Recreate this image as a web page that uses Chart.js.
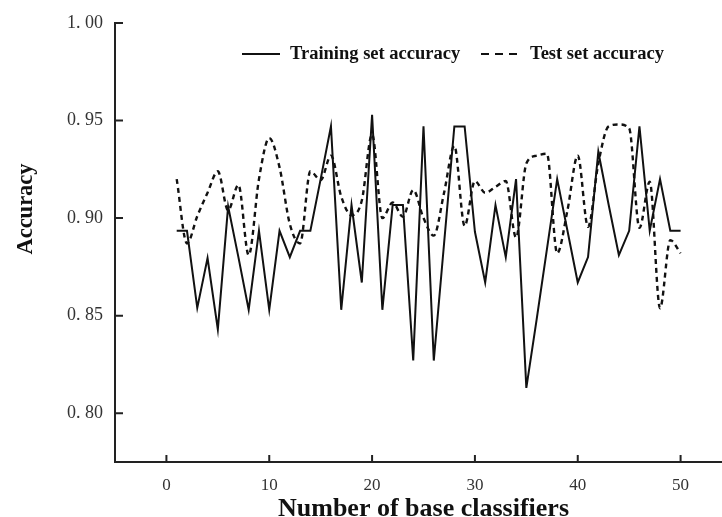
<!DOCTYPE html>
<html>
<head>
<meta charset="utf-8">
<script src="https://cdn.jsdelivr.net/npm/chart.js@4.4.0/dist/chart.umd.min.js"></script>
<style>
  html, body { margin: 0; padding: 0; background: #fff; overflow: hidden; }
  #wrap { width: 740px; height: 517px; }
</style>
</head>
<body>
<div id="wrap"><canvas id="accChart" width="740" height="517"></canvas></div>
<script>
const classifiers = [1, 2, 3, 4, 5, 6, 7, 8, 9, 10, 11, 12, 13, 14, 15, 16, 17, 18, 19, 20,
    21, 22, 23, 24, 25, 26, 27, 28, 29, 30, 31, 32, 33, 34, 35, 36, 37, 38, 39, 40,
    41, 42, 43, 44, 45, 46, 47, 48, 49, 50];

const trainAcc = [0.8935, 0.8935, 0.854, 0.8795, 0.843, 0.906, 0.880, 0.853, 0.8935, 0.853,
    0.8935, 0.880, 0.8935, 0.8935, 0.920, 0.947, 0.853, 0.9067, 0.867, 0.953,
    0.853, 0.9067, 0.9067, 0.827, 0.947, 0.827, 0.887, 0.947, 0.947, 0.893,
    0.867, 0.9067, 0.880, 0.920, 0.813, 0.848, 0.884, 0.920, 0.8935, 0.867,
    0.880, 0.934, 0.907, 0.881, 0.8935, 0.947, 0.8935, 0.920, 0.8935, 0.8935];

const testAcc = [0.920, 0.887, 0.901, 0.913, 0.924, 0.904, 0.917, 0.881, 0.920, 0.941,
    0.926, 0.897, 0.887, 0.924, 0.9195, 0.932, 0.911, 0.9015, 0.909, 0.943,
    0.900, 0.908, 0.9007, 0.9144, 0.900, 0.891, 0.913, 0.937, 0.896, 0.919,
    0.913, 0.916, 0.919, 0.890, 0.928, 0.932, 0.933, 0.882, 0.904, 0.932,
    0.8955, 0.928, 0.947, 0.948, 0.946, 0.895, 0.9186, 0.8538, 0.8887, 0.882];

const xTicks = [0, 10, 20, 30, 40, 50];
const yTicks = [0.80, 0.85, 0.90, 0.95, 1.00];
const yTitle = 'Accuracy';

const serif = "'Liberation Serif', 'DejaVu Serif', serif";

// tick marks point into the plot, so draw them by hand
const inwardTicks = {
    id: 'inwardTicks',
    afterDraw(chart) {
        const ctx = chart.ctx;
        const xs = chart.scales.x;
        const ys = chart.scales.y;
        ctx.save();
        ctx.strokeStyle = '#222';
        ctx.lineWidth = 2;
        ctx.beginPath();
        xs.ticks.forEach(t => {
            const px = xs.getPixelForValue(t.value);
            ctx.moveTo(px, xs.top);
            ctx.lineTo(px, xs.top - 7);
        });
        ys.ticks.forEach(t => {
            const py = ys.getPixelForValue(t.value);
            ctx.moveTo(ys.right, py);
            ctx.lineTo(ys.right + 8, py);
        });
        ctx.stroke();

        // y title sits above the middle of the axis in the original
        ctx.translate(26, 209);
        ctx.rotate(-Math.PI / 2);
        ctx.fillStyle = '#111';
        ctx.font = "bold 22.5px " + serif;
        ctx.textAlign = 'center';
        ctx.textBaseline = 'middle';
        ctx.fillText(yTitle, 0, 0);
        ctx.restore();
    }
};

// legend sits inside the plot on one row
const innerLegend = {
    id: 'innerLegend',
    afterDraw(chart) {
        const ctx = chart.ctx;
        const items = [
            { ds: chart.data.datasets[0], x0: 242, x1: 280, tx: 290 },
            { ds: chart.data.datasets[1], x0: 481, x1: 517, tx: 530 }
        ];
        const y = 54;
        ctx.save();
        items.forEach(it => {
            ctx.strokeStyle = it.ds.borderColor;
            ctx.lineWidth = 2;
            ctx.setLineDash(it.ds.borderDash ? [8, 6] : []);
            ctx.beginPath();
            ctx.moveTo(it.x0, y);
            ctx.lineTo(it.x1, y);
            ctx.stroke();
            ctx.setLineDash([]);
            ctx.fillStyle = '#111';
            ctx.font = "bold 18.5px " + serif;
            ctx.textBaseline = 'middle';
            ctx.fillText(it.ds.label, it.tx, y);
        });
        ctx.restore();
    }
};

const ctx = document.getElementById('accChart').getContext('2d');
new Chart(ctx, {
    type: 'line',
    data: {
        datasets: [
            {
                label: 'Training set accuracy',
                data: classifiers.map((n, i) => ({ x: n, y: trainAcc[i] })),
                borderColor: '#111',
                borderWidth: 2,
                pointRadius: 0,
                tension: 0,
                fill: false
            },
            {
                label: 'Test set accuracy',
                data: classifiers.map((n, i) => ({ x: n, y: testAcc[i] })),
                borderColor: '#111',
                borderWidth: 2.4,
                borderDash: [5, 4],
                pointRadius: 0,
                cubicInterpolationMode: 'monotone',
                fill: false
            }
        ]
    },
    options: {
        responsive: false,
        animation: false,
        layout: { padding: { top: 23, right: 8, left: 0, bottom: 0 } },
        plugins: {
            legend: { display: false },
            tooltip: { enabled: false }
        },
        scales: {
            x: {
                type: 'linear',
                min: -5,
                max: 55,
                afterBuildTicks: scale => { scale.ticks = xTicks.map(v => ({ value: v })); },
                afterFit: scale => { scale.height = 55; },
                grid: { display: false, drawTicks: false },
                border: { display: true, color: '#222', width: 2 },
                ticks: {
                    color: '#333',
                    padding: 13,
                    font: { family: serif, size: 17 }
                },
                title: {
                    display: true,
                    text: 'Number of base classifiers',
                    color: '#111',
                    padding: { top: 0, bottom: -5 },
                    font: { family: serif, size: 26, weight: 'bold', lineHeight: 1 }
                }
            },
            y: {
                min: 0.775,
                max: 1.0,
                afterBuildTicks: scale => { scale.ticks = yTicks.map(v => ({ value: v })); },
                afterFit: scale => { scale.width = 115; },
                grid: { display: false, drawTicks: false },
                border: { display: true, color: '#222', width: 2 },
                ticks: {
                    color: '#333',
                    padding: 12,
                    font: { family: serif, size: 18 },
                    callback: v => v.toFixed(2).replace('.', '. ')
                }
            }
        }
    },
    plugins: [inwardTicks, innerLegend]
});
</script>
</body>
</html>
